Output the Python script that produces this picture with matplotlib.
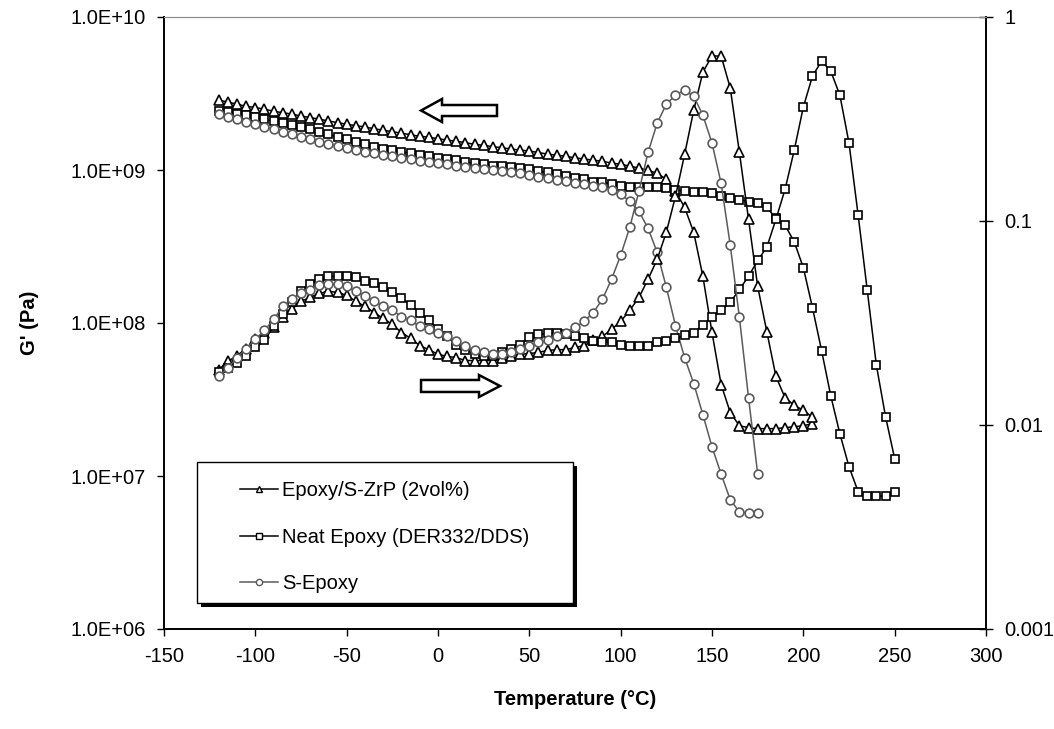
'''
DMA of epoxy / S-ZrP nanocomposites: G' (left) and tan delta (right) vs temperature
'''

import numpy as np
import matplotlib.pyplot as plt
from matplotlib.lines import Line2D
from matplotlib.patches import Rectangle, Polygon
from matplotlib.ticker import NullLocator

plt.rcParams['font.family'] = ['Liberation Sans', 'DejaVu Sans']
plt.rcParams['axes.unicode_minus'] = False

# temperatures, 5 C steps
temp_zrp = np.arange(-120, 210, 5)    # -120 .. 205
temp_neat = np.arange(-120, 255, 5)   # -120 .. 250
temp_sep = np.arange(-120, 180, 5)    # -120 .. 175

labels = ['Epoxy/S-ZrP (2vol%)', 'Neat Epoxy (DER332/DDS)', 'S-Epoxy']

# storage modulus G' (Pa)
g_zrp = [2.86e9, 2.78e9, 2.69e9, 2.61e9, 2.56e9, 2.50e9, 2.42e9, 2.37e9, 2.32e9, 2.25e9,
         2.20e9, 2.15e9, 2.09e9, 2.04e9, 1.99e9, 1.95e9, 1.91e9, 1.86e9, 1.82e9, 1.78e9,
         1.74e9, 1.70e9, 1.66e9, 1.64e9, 1.60e9, 1.57e9, 1.54e9, 1.51e9, 1.47e9, 1.45e9,
         1.42e9, 1.40e9, 1.37e9, 1.35e9, 1.33e9, 1.30e9, 1.27e9, 1.25e9, 1.23e9, 1.20e9,
         1.18e9, 1.16e9, 1.14e9, 1.11e9, 1.09e9, 1.06e9, 1.03e9, 9.96e8, 9.5e8, 8.7e8,
         7.26e8, 5.70e8, 3.91e8, 2.02e8, 8.67e7, 3.96e7, 2.60e7, 2.13e7, 2.07e7, 2.04e7,
         2.04e7, 2.04e7, 2.07e7, 2.10e7, 2.13e7, 2.20e7]
g_neat = [2.42e9, 2.39e9, 2.32e9, 2.28e9, 2.21e9, 2.15e9, 2.08e9, 2.02e9, 1.96e9, 1.91e9,
          1.85e9, 1.77e9, 1.71e9, 1.64e9, 1.59e9, 1.52e9, 1.47e9, 1.41e9, 1.37e9, 1.35e9,
          1.31e9, 1.29e9, 1.25e9, 1.23e9, 1.19e9, 1.18e9, 1.16e9, 1.12e9, 1.11e9, 1.09e9,
          1.07e9, 1.06e9, 1.04e9, 1.03e9, 1.01e9, 9.8e8, 9.7e8, 9.4e8, 9.1e8, 8.8e8,
          8.7e8, 8.4e8, 8.3e8, 8.1e8, 7.9e8, 7.8e8, 7.8e8, 7.7e8, 7.7e8, 7.6e8,
          7.4e8, 7.3e8, 7.15e8, 7.15e8, 7.05e8, 6.8e8, 6.6e8, 6.4e8, 6.2e8, 6.1e8,
          5.7e8, 4.83e8, 4.35e8, 3.4e8, 2.3e8, 1.26e8, 6.6e7, 3.35e7, 1.89e7, 1.15e7,
          7.9e6, 7.4e6, 7.4e6, 7.4e6, 7.9e6]
g_sep = [2.32e9, 2.23e9, 2.15e9, 2.07e9, 1.99e9, 1.92e9, 1.85e9, 1.78e9, 1.71e9, 1.65e9,
         1.59e9, 1.52e9, 1.47e9, 1.43e9, 1.39e9, 1.35e9, 1.32e9, 1.29e9, 1.26e9, 1.23e9,
         1.20e9, 1.18e9, 1.15e9, 1.12e9, 1.11e9, 1.09e9, 1.07e9, 1.05e9, 1.03e9, 1.01e9,
         9.96e8, 9.8e8, 9.67e8, 9.52e8, 9.24e8, 9.03e8, 8.83e8, 8.64e8, 8.44e8, 8.25e8,
         8.07e8, 7.89e8, 7.71e8, 7.37e8, 6.94e8, 6.24e8, 5.37e8, 4.16e8, 2.89e8, 1.71e8,
         9.63e7, 5.94e7, 4.02e7, 2.52e7, 1.55e7, 1.03e7, 6.99e6, 5.83e6, 5.74e6, 5.74e6]

# tan delta
tan_zrp = [0.0187, 0.0205, 0.0219, 0.0237, 0.0263, 0.0284, 0.0301, 0.0337, 0.0369, 0.0404,
           0.0422, 0.0442, 0.0452, 0.0447, 0.0432, 0.0404, 0.0381, 0.0356, 0.0333, 0.0311,
           0.0284, 0.0266, 0.0245, 0.0234, 0.0222, 0.0217, 0.0214, 0.0207, 0.0207, 0.0207,
           0.0207, 0.0212, 0.0217, 0.0222, 0.0224, 0.0227, 0.0232, 0.0234, 0.0234, 0.0240,
           0.0245, 0.0260, 0.0272, 0.0294, 0.0322, 0.0365, 0.0422, 0.0518, 0.0649, 0.0881,
           0.132, 0.212, 0.349, 0.537, 0.644, 0.644, 0.448, 0.217, 0.102, 0.0478,
           0.0287, 0.0173, 0.0136, 0.0125, 0.0118, 0.0109]
tan_neat = [0.0181, 0.0191, 0.0202, 0.0219, 0.0240, 0.0260, 0.0304, 0.0352, 0.0399, 0.0452,
            0.0489, 0.0518, 0.0535, 0.0535, 0.0535, 0.0529, 0.0506, 0.0494, 0.0473, 0.0447,
            0.0418, 0.0386, 0.0356, 0.0326, 0.0294, 0.0272, 0.0248, 0.0234, 0.0224, 0.0219,
            0.0219, 0.0227, 0.0237, 0.0248, 0.0269, 0.0278, 0.0281, 0.0281, 0.0278, 0.0272,
            0.0266, 0.0257, 0.0254, 0.0254, 0.0248, 0.0243, 0.0243, 0.0245, 0.0254, 0.0257,
            0.0266, 0.0275, 0.0284, 0.0308, 0.0337, 0.0365, 0.0399, 0.0462, 0.0535, 0.0641,
            0.0743, 0.102, 0.143, 0.222, 0.362, 0.513, 0.608, 0.543, 0.414, 0.241,
            0.107, 0.0457, 0.0196, 0.0110, 0.00684]
tan_sep = [0.0173, 0.0191, 0.0214, 0.0237, 0.0263, 0.0291, 0.0329, 0.0381, 0.0413, 0.0442,
           0.0457, 0.0483, 0.0489, 0.0489, 0.0478, 0.0452, 0.0427, 0.0404, 0.0381, 0.0365,
           0.0340, 0.0326, 0.0304, 0.0294, 0.0284, 0.0272, 0.0257, 0.0243, 0.0234, 0.0229,
           0.0224, 0.0224, 0.0229, 0.0237, 0.0243, 0.0254, 0.0260, 0.0272, 0.0284, 0.0301,
           0.0322, 0.0356, 0.0413, 0.0518, 0.0679, 0.0931, 0.140, 0.217, 0.302, 0.374,
           0.414, 0.438, 0.409, 0.330, 0.241, 0.153, 0.0760, 0.0337, 0.0136, 0.00577]

FS = 14.5
styles = [dict(marker='^', ms=6.8, color='black', mec='black'),
          dict(marker='s', ms=6.0, color='black', mec='black'),
          dict(marker='o', ms=6.3, color='#5a5a5a', mec='#5a5a5a')]

fig = plt.figure(figsize=(10.54, 7.29), dpi=100)
ax = fig.add_axes([164 / 1054, 100 / 729, 822 / 1054, 612 / 729])
ax2 = ax.twinx()

temps = [temp_zrp, temp_neat, temp_sep]
gvals = [g_zrp, g_neat, g_sep]
tvals = [tan_zrp, tan_neat, tan_sep]
for t, g, td, st in zip(temps, gvals, tvals, styles):
    ax.plot(t, g, lw=1.1, mfc='white', mew=1.2, **st)
    ax2.plot(t, td, lw=1.1, mfc='white', mew=1.2, **st)

ax.set_xlim(-150, 300)
ax.set_yscale('log')
ax.set_ylim(1e6, 1e10)
ax2.set_yscale('log')
ax2.set_ylim(1e-3, 1)

ax.set_xticks(np.arange(-150, 301, 50))
ax.set_yticks([1e6, 1e7, 1e8, 1e9, 1e10])
ax.set_yticklabels(['1.0E+06', '1.0E+07', '1.0E+08', '1.0E+09', '1.0E+10'])
ax2.set_yticks([1e-3, 1e-2, 1e-1, 1])
ax2.set_yticklabels(['0.001', '0.01', '0.1', '1'])
ax.yaxis.set_minor_locator(NullLocator())
ax2.yaxis.set_minor_locator(NullLocator())

ax.tick_params(axis='both', direction='out', length=5, width=1, labelsize=FS, pad=8)
ax2.tick_params(axis='y', direction='inout', length=10, width=1, labelsize=FS, pad=8)

for a in (ax, ax2):
    a.spines['top'].set_color('#8c8c8c')
    a.spines['left'].set_linewidth(1.2)
    a.spines['right'].set_linewidth(1.2)
    a.spines['bottom'].set_linewidth(1.2)

ax.set_xlabel('Temperature (\u00b0C)', fontsize=FS, fontweight='bold')
ax.xaxis.set_label_coords(0.5, -0.1)
ax.set_ylabel("G' (Pa)", fontsize=FS, fontweight='bold')
ax.yaxis.set_label_coords(-0.152, 0.5)

# block arrows (axes fraction)
left_arrow = [(0.3127, 0.8472), (0.3382, 0.8660), (0.3382, 0.8562), (0.4051, 0.8562),
              (0.4051, 0.8382), (0.3382, 0.8382), (0.3382, 0.8284)]
right_arrow = [(0.3127, 0.4069), (0.3832, 0.4069), (0.3832, 0.4150), (0.4088, 0.3971),
               (0.3832, 0.3791), (0.3832, 0.3873), (0.3127, 0.3873)]
for pts in (left_arrow, right_arrow):
    ax2.add_patch(Polygon(pts, closed=True, transform=ax2.transAxes, facecolor='white',
                          edgecolor='black', lw=1.8, zorder=5))

# legend box with black drop shadow
bx, by, bw, bh = 0.0401, 0.0425, 0.4575, 0.2304
ax2.add_patch(Rectangle((bx + 0.005, by - 0.0065), bw, bh, transform=ax2.transAxes,
                        facecolor='black', edgecolor='none', zorder=6))
ax2.add_patch(Rectangle((bx, by), bw, bh, transform=ax2.transAxes,
                        facecolor='white', edgecolor='black', lw=1, zorder=7))
handles = [Line2D([], [], lw=1.1, mfc='white', mew=1.0,
                  **{**st, 'ms': 4.5}) for st in styles]
leg = ax2.legend(handles, labels, loc='upper left', bbox_to_anchor=(0.0925, 0.242),
                 frameon=False, fontsize=FS, borderpad=0, handlelength=1.9,
                 handletextpad=0.2, labelspacing=1.38, borderaxespad=0)
leg.set_zorder(8)

fig.savefig('out.png', dpi=100)
